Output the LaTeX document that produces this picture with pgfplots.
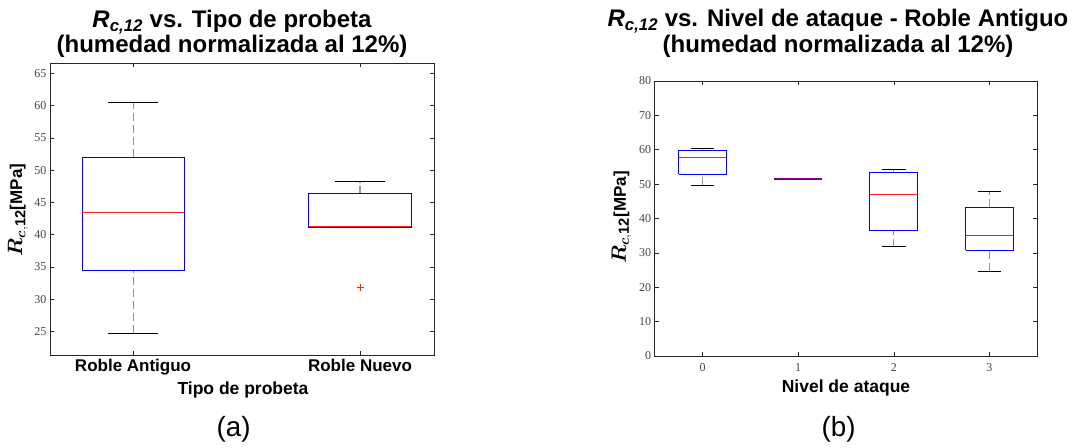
\documentclass[border=0pt]{standalone}
\usepackage{pgfplots}
\pgfplotsset{compat=1.18}
\usepackage{fontspec}
\usepackage{bm}
\setmainfont{Liberation Sans}
\newfontfamily\tickfont{Liberation Serif}
\definecolor{mblue}{RGB}{0,0,255}
\definecolor{mred}{RGB}{255,30,30}
\definecolor{whgray}{RGB}{150,150,150}
\definecolor{mpurple}{RGB}{128,0,128}
\definecolor{tickgray}{RGB}{70,70,70}
\pgfplotsset{
  boxst/.style={draw=mblue, line width=1pt, no marks},
  medst/.style={draw=mred, line width=0.9pt, no marks},
  whst/.style={draw=whgray, dash pattern=on 8pt off 4pt, line width=1.1pt, no marks},
  capst/.style={draw=black, line width=0.9pt, no marks},
  common/.style={
    scale only axis,
    axis line style={line width=0.8pt, black!85},
    tick style={black!85, line width=0.6pt},
    major tick length=4pt,
    tick align=inside,
    ticklabel style={font=\tickfont\fontsize{12}{12}\selectfont, text=tickgray},
    /pgf/number format/assume math mode=true,
  },
}
\newcommand{\ylab}{{\fontsize{21}{21}\selectfont$\bm{R}_{\bm{c},\mathbf{12}}$}[MPa]}
\begin{document}
\begin{tikzpicture}
\useasboundingbox (0,0) rectangle (1075pt,447pt);
% ---------------- (a) ----------------
\begin{axis}[common,
  at={(50pt,92pt)}, anchor=south west,
  width=384pt, height=292pt,
  xmin=0.634, xmax=2.326, ymin=21.35, ymax=66.6,
  xtick={1,2}, xticklabels={Roble Antiguo, Roble Nuevo},
  xticklabel style={font=\bfseries\fontsize{17}{17}\selectfont, text=black, yshift=-1pt},
  ytick={25,30,...,65},
]
% Roble Antiguo
\addplot[whst] coordinates {(1,52.0) (1,60.5)};
\addplot[whst] coordinates {(1,24.7) (1,34.4)};
\addplot[boxst] coordinates {(0.775,34.4) (1.225,34.4) (1.225,52.0) (0.775,52.0) (0.775,34.4)};
\addplot[capst] coordinates {(0.888,60.5) (1.112,60.5)};
\addplot[capst] coordinates {(0.888,24.7) (1.112,24.7)};
\addplot[medst] coordinates {(0.775,43.5) (1.225,43.5)};
% Roble Nuevo
\addplot[whst] coordinates {(2,46.3) (2,48.2)};
\addplot[boxst] coordinates {(1.775,41.1) (2.225,41.1) (2.225,46.3) (1.775,46.3) (1.775,41.1)};
\addplot[capst] coordinates {(1.888,48.2) (2.112,48.2)};
\addplot[capst] coordinates {(1.888,41.1) (2.112,41.1)};
\addplot[medst] coordinates {(1.775,41.3) (2.225,41.3)};
\addplot[only marks, mark=+, mark size=3.5pt, mark options={draw=mred, line width=0.7pt}] coordinates {(2,31.85)};
\end{axis}
% ---------------- (b) ----------------
\begin{axis}[common,
  at={(654.7pt,91pt)}, anchor=south west,
  width=382.6pt, height=275pt,
  xmin=-0.5, xmax=3.5, ymin=0, ymax=80,
  xtick={0,1,2,3},
  xticklabel style={yshift=-4pt},
  ytick={0,10,...,80},
]
% level 0
\addplot[whst] coordinates {(0,59.8) (0,60.5)};
\addplot[whst] coordinates {(0,49.7) (0,52.9)};
\addplot[boxst] coordinates {(-0.25,52.9) (0.25,52.9) (0.25,59.8) (-0.25,59.8) (-0.25,52.9)};
\addplot[capst] coordinates {(-0.12,60.5) (0.12,60.5)};
\addplot[capst] coordinates {(-0.12,49.7) (0.12,49.7)};
\addplot[medst] coordinates {(-0.25,57.8) (0.25,57.8)};
% level 1 (single value)
\addplot[draw=mpurple, line width=1.8pt, no marks] coordinates {(0.75,51.6) (1.25,51.6)};
% level 2
\addplot[whst] coordinates {(2,53.4) (2,54.3)};
\addplot[whst] coordinates {(2,31.8) (2,36.45)};
\addplot[boxst] coordinates {(1.75,36.45) (2.25,36.45) (2.25,53.4) (1.75,53.4) (1.75,36.45)};
\addplot[capst] coordinates {(1.875,54.3) (2.125,54.3)};
\addplot[capst] coordinates {(1.875,31.8) (2.125,31.8)};
\addplot[medst] coordinates {(1.75,46.9) (2.25,46.9)};
% level 3
\addplot[whst] coordinates {(3,43.3) (3,47.8)};
\addplot[whst] coordinates {(3,24.6) (3,30.75)};
\addplot[boxst] coordinates {(2.75,30.75) (3.25,30.75) (3.25,43.3) (2.75,43.3) (2.75,30.75)};
\addplot[capst] coordinates {(2.875,47.8) (3.125,47.8)};
\addplot[capst] coordinates {(2.875,24.6) (3.125,24.6)};
\addplot[medst] coordinates {(2.75,35.1) (3.25,35.1)};
\end{axis}
% ---------------- texts ----------------
\tikzset{ttl/.style={anchor=base, font=\bfseries\fontsize{24}{24}\selectfont, inner sep=0pt}}
\node[ttl] at (232pt,419.7pt) {\textit{R\textsubscript{c,12}} vs. Tipo de probeta};
\node[ttl] at (232pt,394pt) {(humedad normalizada al 12\%)};
\node[ttl] at (838pt,420pt) {\textit{R\textsubscript{c,12}} vs. Nivel de ataque - Roble Antiguo};
\node[ttl] at (838pt,394pt) {(humedad normalizada al 12\%)};
\node[anchor=base, inner sep=0pt, font=\bfseries\fontsize{17.5}{17.5}\selectfont] at (243pt,53pt) {Tipo de probeta};
\node[anchor=base, inner sep=0pt, font=\bfseries\fontsize{17.5}{17.5}\selectfont] at (846pt,54.3pt) {Nivel de ataque};
\node[rotate=90, inner sep=0pt, font=\bfseries\fontsize{17}{17}\selectfont] at (18pt,237pt) {\ylab};
\node[rotate=90, inner sep=0pt, font=\bfseries\fontsize{17}{17}\selectfont] at (621.7pt,229.5pt) {\ylab};
\node[anchor=base, inner sep=0pt, font=\fontsize{27.8}{27.8}\selectfont] at (233.7pt,11pt) {(a)};
\node[anchor=base, inner sep=0pt, font=\fontsize{27.8}{27.8}\selectfont] at (838.7pt,11pt) {(b)};
\end{tikzpicture}
\end{document}
